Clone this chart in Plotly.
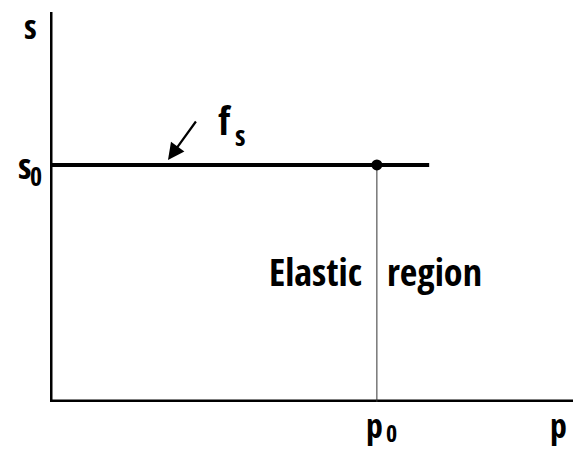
import plotly.graph_objects as go

# ---- data (normalised axis units) ----
p0 = 0.625          # position of p0 on the p axis
s0 = 0.608          # level of the yield line f_s
p_end = 0.725       # where the f_s line ends
axis_x = [0, 0, 1]
axis_y = [1, 0, 0]

W, H = 577, 450
L, R, T, B = 50, 4, 12, 48
pw, ph = W - L - R, H - T - B

def px(x):  # pixel -> paper x
    return (x - L) / pw

def py(y):  # pixel -> paper y
    return (H - B - y) / ph

FONT = "Open Sans Condensed, Roboto Condensed, DejaVu Sans Condensed, sans-serif"

fig = go.Figure()
# axes
fig.add_trace(go.Scatter(x=axis_x, y=axis_y, mode="lines",
                         line=dict(color="black", width=5), hoverinfo="skip"))
# f_s line
fig.add_trace(go.Scatter(x=[0, p_end], y=[s0, s0], mode="lines",
                         line=dict(color="black", width=4), hoverinfo="skip"))
# thin vertical line at p0
fig.add_trace(go.Scatter(x=[p0, p0], y=[0, s0], mode="lines",
                         line=dict(color="#333", width=1), hoverinfo="skip"))
# point
fig.add_trace(go.Scatter(x=[p0], y=[s0], mode="markers",
                         marker=dict(color="black", size=11), hoverinfo="skip"))

def txt(t, x, y, size):
    fig.add_annotation(text=t, x=px(x), y=py(y), xref="paper", yref="paper",
                       showarrow=False, xanchor="center", yanchor="middle",
                       font=dict(family=FONT, size=size, color="black"))

txt("<b>s</b>", 30, 26, 34)
txt("<b>s</b>", 24, 165, 36)
txt("<b>0</b>", 36, 176, 26)
txt("<b>f</b>", 225, 119, 40)
txt("<b>s</b>", 240, 135, 28)
txt("<b>Elastic</b>", 315, 271, 38)
txt("<b>region</b>", 434, 271, 38)
txt("<b>p</b>", 374, 425, 34)
txt("<b>0</b>", 391, 432, 24)
txt("<b>p</b>", 558, 425, 34)

# arrow pointing at the f_s line
fig.add_annotation(text="", x=px(168), y=py(160), xref="paper", yref="paper",
                   ax=29, ay=-40, axref="pixel", ayref="pixel",
                   showarrow=True, arrowhead=2, arrowsize=1.5, arrowwidth=2.2,
                   arrowcolor="black")

fig.update_xaxes(range=[0, 1], visible=False)
fig.update_yaxes(range=[0, 1], visible=False)
fig.update_traces(cliponaxis=False)
fig.update_layout(width=W, height=H, margin=dict(l=L, r=R, t=T, b=B),
                  plot_bgcolor="white", paper_bgcolor="white",
                  showlegend=False)
fig.write_html("out.html", config={"displayModeBar": False},
               post_script="document.body.style.margin='0';")
